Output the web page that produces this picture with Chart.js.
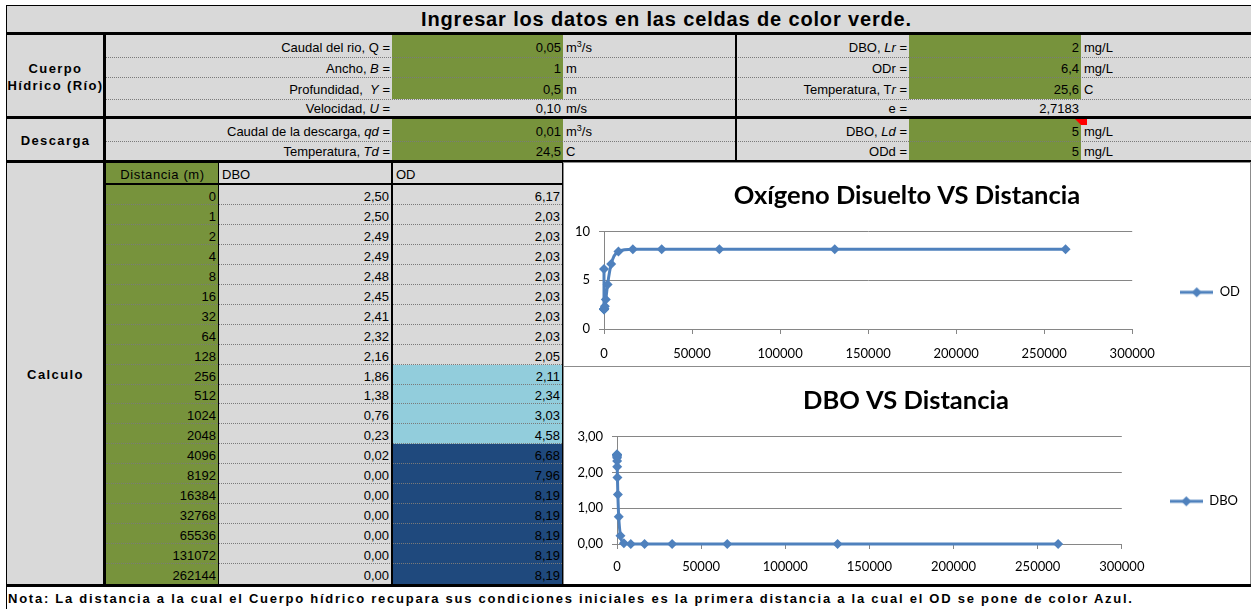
<!DOCTYPE html>
<html lang="es">
<head>
<meta charset="utf-8">
<title>Oxígeno disuelto y DBO</title>
<script src="https://cdn.jsdelivr.net/npm/chart.js@4.4.1/dist/chart.umd.min.js"></script>
<style>
  html, body { margin: 0; padding: 0; background: #fff; }
  #hoja { position: relative; width: 1251px; height: 609px; overflow: hidden;
          font-family: "Liberation Sans", Arial, sans-serif; font-size: 13px; color: #000; }
  .c { position: absolute; box-sizing: border-box; display: flex; align-items: center;
       white-space: nowrap; line-height: 1; padding: 2px 2px 0 3px; }
  .g { background: #d9d9d9; }
  .v { background: #77933c; }
  .az { background: #92cddc; }
  .os { background: #1f497d; }
  .r { justify-content: flex-end; }
  .l { justify-content: flex-start; }
  .m { justify-content: center; text-align: center; }
  .b { font-weight: bold; letter-spacing: 1.4px; }
  .t { font-size: 20px; font-weight: bold; letter-spacing: 0.85px; padding: 0; }
  .enc { letter-spacing: 0.6px; }
  .nota { background: #fff; font-size: 13px; font-weight: bold; letter-spacing: 1.75px; padding: 0 0 0 1px; }
  .h { position: absolute; background: #000; }
  .p { position: absolute; height: 0; border-top: 1px dotted #7a7a7a; }
  .panel { position: absolute; background: #fff; border: 1px solid #8c8c8c; box-sizing: border-box; }
  .panel div { position: absolute; left: 0; top: 0; right: 0; bottom: 0; }
  .tri { position: absolute; width: 0; height: 0; border-top: 6px solid #ff0000; border-left: 6px solid transparent; }
  sup { font-size: 9px; line-height: 0; vertical-align: 5px; }
</style>
</head>
<body>
<div id="hoja"></div>
<script>
// datos de entrada (celdas verdes y calculadas)
const rioEtiquetas = ['Caudal del rio, Q =', 'Ancho, <i>B</i> =', 'Profundidad,&nbsp; <i>Y</i> =', 'Velocidad, <i>U</i> =',
                      'Caudal de la descarga, <i>qd</i> =', 'Temperatura, <i>Td</i> ='];
const rioValores = ['0,05', '1', '0,5', '0,10', '0,01', '24,5'];
const rioUnidades = ['m<sup>3</sup>/s', 'm', 'm', 'm/s', 'm<sup>3</sup>/s', 'C'];
const dboEtiquetas = ['DBO, <i>Lr</i> =', 'ODr =', 'Temperatura, T<i>r</i> =', 'e =', 'DBO, <i>Ld</i> =', 'ODd ='];
const dboParamValores = ['2', '6,4', '25,6', '2,7183', '5', '5'];
const dboUnidades = ['mg/L', 'mg/L', 'C', '', 'mg/L', 'mg/L'];
const odRio = 6.4;

// tabla de calculo
const distancias = [0, 1, 2, 4, 8, 16, 32, 64, 128, 256, 512, 1024, 2048, 4096, 8192, 16384, 32768, 65536, 131072, 262144];
const dboValores = [2.50, 2.50, 2.49, 2.49, 2.48, 2.45, 2.41, 2.32, 2.16, 1.86, 1.38, 0.76, 0.23, 0.02, 0.00, 0.00, 0.00, 0.00, 0.00, 0.00];
const odValores = [6.17, 2.03, 2.03, 2.03, 2.03, 2.03, 2.03, 2.03, 2.05, 2.11, 2.34, 3.03, 4.58, 6.68, 7.96, 8.19, 8.19, 8.19, 8.19, 8.19];

// ejes de los graficos
const distTicks = [0, 50000, 100000, 150000, 200000, 250000, 300000];
const odTicks = [0, 5, 10];
const dboTicks = [0, 1, 2, 3];

const hoja = document.getElementById('hoja');

function caja(x1, y1, x2, y2, clase, html) {
    const d = document.createElement('div');
    d.className = clase;
    d.style.left = x1 + 'px';
    d.style.top = y1 + 'px';
    d.style.width = (x2 - x1) + 'px';
    d.style.height = (y2 - y1) + 'px';
    if (html !== undefined) d.innerHTML = '<span>' + html + '</span>';
    hoja.appendChild(d);
    return d;
}
function punteada(x1, x2, y) {
    caja(x1, y, x2, y + 1, 'p');
}
function coma(v, dec) {
    return v.toFixed(dec).replace('.', ',');
}

// fondo gris de la hoja
caja(6, 5, 1251, 587, 'c g');

// filas de parametros
const filas = [[35, 57], [57, 77], [77, 99], [99, 116], [119, 141], [141, 160]];
filas.forEach((f, i) => {
    const verde = i !== 3;
    caja(392, f[0], 563, f[1], verde ? 'c v' : 'c');
    caja(909, f[0], 1081, f[1], verde ? 'c v' : 'c');
});

// celdas de calculo
const filaAlto = (584 - 185) / distancias.length;
distancias.forEach((d, i) => {
    const y1 = Math.round(185 + i * filaAlto);
    const y2 = Math.round(185 + (i + 1) * filaAlto);
    let fondo = '';
    if (odValores[i] >= odRio) fondo = 'os';
    else if (d >= 256) fondo = 'az';
    if (fondo) caja(393, y1, 562, y2, 'c ' + fondo);
});
caja(106, 163, 218, 584, 'c v');

// lineas punteadas
[57, 77, 99, 141].forEach(y => punteada(106, 1251, y));
for (let i = 1; i < distancias.length; i++) {
    punteada(106, 562, Math.round(185 + i * filaAlto) - 1);
}

// lineas gruesas y bordes
caja(6, 5, 1251, 6, 'h');
caja(6, 32, 1251, 35, 'h');
caja(6, 116, 1251, 119, 'h');
caja(6, 160, 1251, 163, 'h');
caja(104, 183, 563, 185, 'h');
caja(6, 5, 7, 609, 'h');
caja(103, 33, 106, 585, 'h');
caja(735, 33, 737, 162, 'h');
caja(218, 163, 219, 585, 'h');
caja(391, 163, 393, 585, 'h');
caja(562, 163, 564, 585, 'h');

// textos
caja(421, 5, 1251, 32, 'c l t', 'Ingresar los datos en las celdas de color verde.');
filas.forEach((f, i) => {
    caja(106, f[0], 392, f[1], 'c r', rioEtiquetas[i]);
    caja(392, f[0], 563, f[1], 'c r', rioValores[i]);
    caja(563, f[0], 735, f[1], 'c l', rioUnidades[i]);
    caja(737, f[0], 909, f[1], 'c r', dboEtiquetas[i]);
    caja(909, f[0], 1081, f[1], 'c r', dboParamValores[i]);
    caja(1081, f[0], 1251, f[1], 'c l', dboUnidades[i]);
});
caja(1075, 119, 1081, 125, 'tri');
const izq = caja(7, 35, 103, 116, 'c m b', 'Cuerpo<br>Hídrico (Río)');
izq.style.lineHeight = '17px';
caja(7, 119, 103, 160, 'c m b', 'Descarga');
caja(7, 163, 103, 584, 'c m b', 'Calculo');

caja(106, 163, 218, 183, 'c m enc', 'Distancia (m)');
caja(219, 163, 391, 183, 'c l', 'DBO');
caja(393, 163, 562, 183, 'c l', 'OD');
distancias.forEach((d, i) => {
    const y1 = Math.round(185 + i * filaAlto);
    const y2 = Math.round(185 + (i + 1) * filaAlto);
    caja(106, y1, 218, y2, 'c r', String(d));
    caja(219, y1, 391, y2, 'c r', coma(dboValores[i], 2));
    caja(393, y1, 562, y2, 'c r', coma(odValores[i], 2));
});

// paneles de graficos
function panel(x1, y1, x2, y2, id) {
    const p = caja(x1, y1, x2, y2, 'panel');
    const inner = document.createElement('div');
    const cv = document.createElement('canvas');
    cv.id = id;
    inner.appendChild(cv);
    p.appendChild(inner);
    return cv;
}
const cvOD = panel(563, 162, 1251, 367, 'graficoOD');
const cvDBO = panel(563, 366, 1251, 586, 'graficoDBO');

caja(6, 584, 1251, 587, 'h');
caja(7, 587, 1251, 609, 'c l nota',
    'Nota: La distancia a la cual el Cuerpo hídrico recupara sus condiciones iniciales es la primera distancia a la cual el OD se pone de color Azul.');

// graficos
const azul = '#4f81bd';
const gris = '#868686';
Chart.defaults.font.family = 'Lato, "Open Sans", sans-serif';
Chart.defaults.color = '#000';

function iconoLeyenda() {
    const c = document.createElement('canvas');
    c.width = 33;
    c.height = 12;
    const ctx = c.getContext('2d');
    ctx.strokeStyle = azul;
    ctx.lineWidth = 3;
    ctx.beginPath();
    ctx.moveTo(0, 6);
    ctx.lineTo(33, 6);
    ctx.stroke();
    ctx.fillStyle = azul;
    ctx.beginPath();
    ctx.moveTo(16.5, 1);
    ctx.lineTo(21.5, 6);
    ctx.lineTo(16.5, 11);
    ctx.lineTo(11.5, 6);
    ctx.closePath();
    ctx.fill();
    return c;
}

function crearGrafico(canvas, titulo, etiqueta, valores, ticksY, formatoY, m) {
    return new Chart(canvas.getContext('2d'), {
        type: 'scatter',
        data: {
            datasets: [{
                label: etiqueta,
                data: distancias.map((d, i) => ({ x: d, y: valores[i] })),
                showLine: true,
                borderColor: azul,
                backgroundColor: azul,
                borderWidth: 3,
                pointStyle: 'rectRot',
                pointRadius: 5,
                pointHoverRadius: 5,
                pointBorderWidth: 0,
                cubicInterpolationMode: 'monotone',
                clip: false
            }]
        },
        options: {
            responsive: true,
            maintainAspectRatio: false,
            animation: false,
            layout: { padding: { left: 0, right: m.der, top: 0, bottom: 0 } },
            plugins: {
                title: {
                    display: true,
                    text: titulo,
                    color: '#000',
                    font: { size: 25.5, weight: 'bold' },
                    padding: { top: m.tituloArriba, bottom: m.tituloAbajo }
                },
                legend: {
                    position: 'right',
                    align: 'start',
                    fullSize: false,
                    title: { display: true, text: ' ', font: { size: 1 }, padding: { top: m.leyendaBaja, bottom: 0 } },
                    labels: {
                        usePointStyle: true,
                        pointStyle: iconoLeyenda(),
                        pointStyleWidth: 33,
                        padding: 48,
                        color: '#000',
                        font: { size: 13 }
                    }
                },
                tooltip: { enabled: false }
            },
            scales: {
                x: {
                    type: 'linear',
                    min: 0,
                    max: 300000,
                    afterBuildTicks: s => { s.ticks = distTicks.map(v => ({ value: v })); },
                    afterFit: s => { s.height = m.abajo; },
                    grid: { drawOnChartArea: false, color: gris, tickLength: 5 },
                    border: { color: gris },
                    ticks: { padding: m.padX, font: { size: 13 }, callback: v => String(v) }
                },
                y: {
                    min: ticksY[0],
                    max: ticksY[ticksY.length - 1],
                    afterBuildTicks: s => { s.ticks = ticksY.map(v => ({ value: v })); },
                    afterFit: s => { s.width = m.izq; },
                    grid: { color: gris, tickLength: 5 },
                    border: { color: gris },
                    ticks: { padding: 9, font: { size: 13 }, callback: formatoY }
                }
            }
        }
    });
}

crearGrafico(cvOD, 'Oxígeno Disuelto VS Distancia', 'OD', odValores, odTicks, v => String(v),
    { izq: 40, der: 0, abajo: 37, padX: 12, tituloArriba: 17, tituloAbajo: 21, leyendaBaja: 5 });
crearGrafico(cvDBO, 'DBO VS Distancia', 'DBO', dboValores, dboTicks, v => coma(v, 2),
    { izq: 53, der: 2, abajo: 41, padX: 10, tituloArriba: 18, tituloAbajo: 21, leyendaBaja: 9 });
</script>
</body>
</html>
